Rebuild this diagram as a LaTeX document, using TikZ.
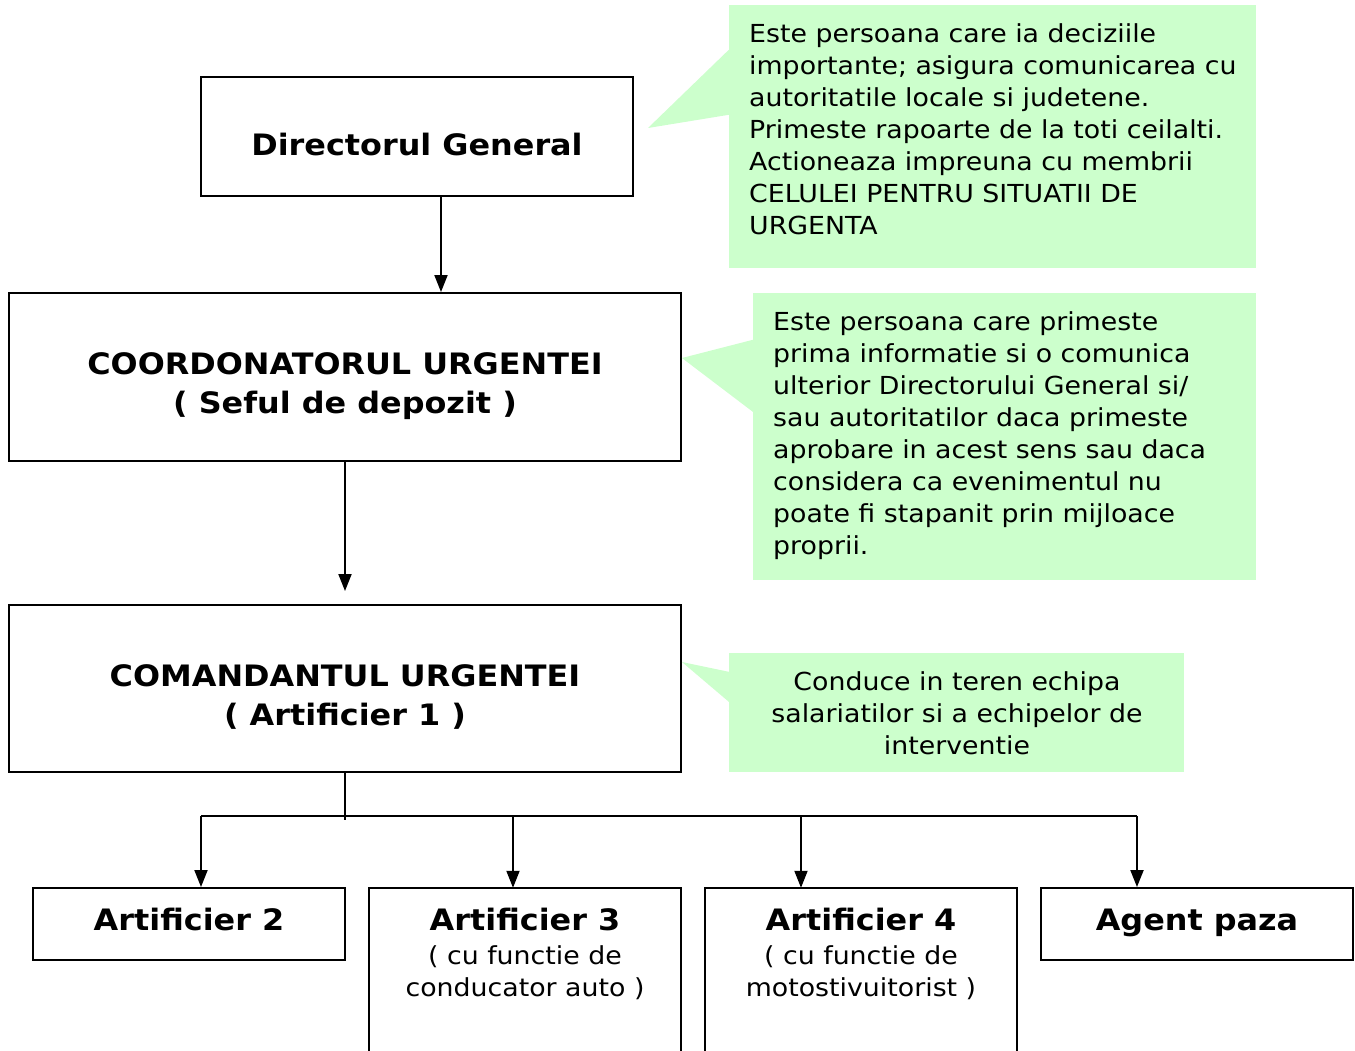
\documentclass[tikz,border=0pt]{standalone}
\usepackage{fontspec}
\setmainfont[FakeStretch=1.08]{DejaVu Sans}
\usetikzlibrary{arrows.meta}
\definecolor{callgreen}{HTML}{CCFFCC}
\begin{document}
\begin{tikzpicture}[x=1pt,y=-1pt,
  box/.style={draw=black,line width=1.9pt,rectangle,inner sep=0pt},
  openbox/.style={draw=none,rectangle,inner sep=0pt},
  title/.style={font=\bfseries\fontsize{29.5}{36}\selectfont,inner sep=0pt,anchor=base},
  body/.style={font=\fontsize{24.8}{32.1}\selectfont,align=left,inner sep=0pt,anchor=north west},
  bodyc/.style={font=\fontsize{24.8}{32.1}\selectfont,align=center,inner sep=0pt,anchor=north},
  note/.style={fill=callgreen,draw=none,rectangle,inner sep=0pt},
  arr/.style={line width=1.9pt,-{Triangle[width=13pt,length=17pt]}},
  ln/.style={line width=1.9pt}
]
\useasboundingbox (0,0) rectangle (1355,1051);
\clip (0,0) rectangle (1355,1051);

% main boxes
\node[box,minimum width=432,minimum height=119] (dg) at (417,136.5) {};
\node[title] (dgt) at (417,156) {Directorul General};

\node[box,minimum width=672,minimum height=168] (co) at (345,377) {};
\node[title] (cot1) at (345,374) {COORDONATORUL URGENTEI};
\node[title] (cot2) at (345,413) {( Seful de depozit )};

\node[box,minimum width=672,minimum height=167] (cm) at (345,688.5) {};
\node[title] (cmt1) at (345,686) {COMANDANTUL URGENTEI};
\node[title] (cmt2) at (345,725) {( Artificier 1 )};

% callouts
\node[note,minimum width=527,minimum height=263] (n1) at (992.5,136.5) {};
\coordinate (t1) at (648,128);
\fill[callgreen] ([yshift=-45pt]n1.north west) -- (t1) -- ([yshift=-110pt]n1.north west) -- cycle;
\node[body] (n1t) at (749,23) {Este persoana care ia deciziile\\importante; asigura comunicarea cu\\autoritatile locale si judetene.\\Primeste rapoarte de la toti ceilalti.\\Actioneaza impreuna cu membrii\\CELULEI PENTRU SITUATII DE\\URGENTA};

\node[note,minimum width=503,minimum height=287] (n2) at (1004.5,436.5) {};
\coordinate (t2) at (co.east |- 0,358);
\fill[callgreen] ([yshift=-47pt]n2.north west) -- (t2) -- ([yshift=-119pt]n2.north west) -- cycle;
\node[body] (n2t) at (773,311) {Este persoana care primeste\\prima informatie si o comunica\\ulterior Directorului General si/\\sau autoritatilor daca primeste\\aprobare in acest sens sau daca\\considera ca evenimentul nu\\poate fi stapanit prin mijloace\\proprii.};

\node[note,minimum width=455,minimum height=119] (n3) at (956.5,712.5) {};
\coordinate (t3) at (cm.east |- 0,662);
\fill[callgreen] ([yshift=-19pt]n3.north west) -- (t3) -- ([yshift=-49pt]n3.north west) -- cycle;
\node[bodyc] (n3t) at (957,671) {Conduce in teren echipa\\salariatilor si a echipelor de\\interventie};

% bottom boxes
\node[box,minimum width=312,minimum height=72] (a2) at (189,924) {};
\node[title] (a2t) at (189,930) {Artificier 2};

\node[openbox,minimum width=312,minimum height=200] (a3) at (525,988) {};
\draw[ln] (a3.south west) -- (a3.north west) -- (a3.north east) -- (a3.south east);
\node[title] (a3t) at (525,930) {Artificier 3};
\node[bodyc] (a3s) at (525,945) {( cu functie de\\conducator auto )};

\node[openbox,minimum width=312,minimum height=200] (a4) at (861,988) {};
\draw[ln] (a4.south west) -- (a4.north west) -- (a4.north east) -- (a4.south east);
\node[title] (a4t) at (861,930) {Artificier 4};
\node[bodyc] (a4s) at (861,945) {( cu functie de\\motostivuitorist )};

\node[box,minimum width=312,minimum height=72] (ap) at (1197,924) {};
\node[title] (apt) at (1197,930) {Agent paza};

% connectors
\draw[arr] ([xshift=24pt]dg.south) -- ([xshift=24pt]dg.south |- co.north);
\draw[arr] (co.south) -- ([yshift=13pt]cm.north);

\coordinate (bus) at (345,816);
\coordinate (b2) at (201,816);
\coordinate (b3) at (513,816);
\coordinate (b4) at (801,816);
\coordinate (b5) at (1137,816);
\draw[ln] (cm.south) -- ([yshift=-4pt]bus);
\draw[ln] (b2) -- (b5);
\draw[arr] (b2) -- (b2 |- a2.north);
\draw[arr] (b3) -- (b3 |- a3.north);
\draw[arr] (b4) -- (b4 |- a4.north);
\draw[arr] (b5) -- (b5 |- ap.north);
\end{tikzpicture}
\end{document}
